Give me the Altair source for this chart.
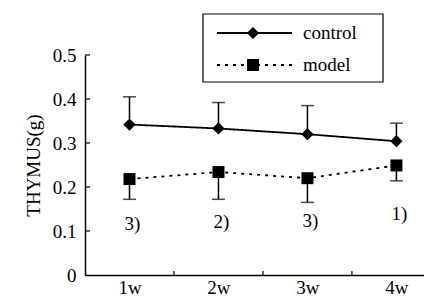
import altair as alt
import pandas as pd

# ---- data ----
weeks = [1, 2, 3, 4]
week_labels = ["1w", "2w", "3w", "4w"]
control_mean = [0.342, 0.333, 0.320, 0.304]
control_upper = [0.405, 0.392, 0.385, 0.345]
model_mean = [0.218, 0.234, 0.220, 0.249]
model_lower = [0.172, 0.172, 0.165, 0.214]
sig_labels = ["3)", "2)", "3)", "1)"]
sig_y = [0.115, 0.120, 0.122, 0.138]
series_names = ["control", "model"]
series_shapes = ["diamond", "square"]
series_dash = [[1, 0], [3, 5]]
y_ticks = [0.1, 0.2, 0.3, 0.4, 0.5]
x_ticks = [1.5, 2.5, 3.5]

FONT = "Liberation Serif"
FS = 19

rows = []
for i, w in enumerate(weeks):
    rows.append(dict(week=w, series="control", value=control_mean[i],
                     bar_from=control_mean[i], bar_to=control_upper[i], cap=control_upper[i]))
    rows.append(dict(week=w, series="model", value=model_mean[i],
                     bar_from=model_lower[i], bar_to=model_mean[i], cap=model_lower[i]))
df = pd.DataFrame(rows)
sig_df = pd.DataFrame(dict(week=weeks, y=sig_y, label=sig_labels))
yt_df = pd.DataFrame(dict(v=y_ticks))
xt_df = pd.DataFrame(dict(b=x_ticks))

xscale = alt.Scale(domain=[0.5, 4.31], nice=False, zero=False)
yscale = alt.Scale(domain=[0, 0.5], nice=False, zero=True)

x_axis = alt.Axis(values=weeks, labelExpr="datum.value + 'w'", ticks=False, grid=False,
                  domainColor="black", domainWidth=1.5, labelFont=FONT, labelFontSize=FS,
                  labelColor="black", labelPadding=3, title="")
y_axis = alt.Axis(values=[0, 0.1, 0.2, 0.3, 0.4, 0.5], format="~g",
                  ticks=False, grid=False, domainColor="black", domainWidth=1.5,
                  labelFont=FONT, labelFontSize=FS, labelColor="black", labelPadding=9,
                  title="THYMUS(g)", titleFont=FONT, titleFontSize=FS, titleFontWeight="normal",
                  titleColor="black", titlePadding=9)

base = alt.Chart(df)
X = alt.X("week:Q", scale=xscale, axis=x_axis)

lines = base.mark_line(color="black", strokeWidth=1.8).encode(
    x=X,
    y=alt.Y("value:Q", scale=yscale, axis=y_axis),
    detail="series:N",
    strokeDash=alt.StrokeDash("series:N", scale=alt.Scale(domain=series_names, range=series_dash),
                              legend=None),
)

err = base.mark_rule(color="black", strokeWidth=1.5).encode(
    x=X, y=alt.Y("bar_from:Q", scale=yscale, axis=y_axis), y2="bar_to:Q")
caps = base.mark_tick(color="black", orient="horizontal", size=13, thickness=1.5).encode(
    x=X, y=alt.Y("cap:Q", scale=yscale, axis=y_axis))

ctrl_pts = base.transform_filter(alt.datum.series == "control").mark_point(
    shape="diamond", filled=True, color="black", size=150, opacity=1).encode(
    x=X, y=alt.Y("value:Q", scale=yscale, axis=y_axis))
model_pts = base.transform_filter(alt.datum.series == "model").mark_point(
    shape="square", filled=True, color="black", size=144, opacity=1).encode(
    x=X, y=alt.Y("value:Q", scale=yscale, axis=y_axis))

sig = alt.Chart(sig_df).mark_text(font=FONT, fontSize=FS, color="black", dx=3).encode(
    x=X, y=alt.Y("y:Q", scale=yscale, axis=y_axis), text="label:N")

ytk = alt.Chart(yt_df).mark_rule(color="black", strokeWidth=1.2).encode(
    y=alt.Y("v:Q", scale=yscale, axis=y_axis), x=alt.value(0), x2=alt.value(5))
xtk = alt.Chart(xt_df).mark_rule(color="black", strokeWidth=1.2).encode(
    x=alt.X("b:Q", scale=xscale, axis=x_axis), y=alt.value(220), y2=alt.value(216))

# ---- legend box (top right, above the plot) ----
leg_frame = alt.Chart(pd.DataFrame({"series": series_names[:1]})).mark_rect(
    fill="white", stroke="black", strokeWidth=1.2).encode(
    x=alt.value(118), x2=alt.value(298), y=alt.value(-41), y2=alt.value(27))

legend_layers = [leg_frame]
row_y = [-22, 10]
for name, shp, dash, ry in zip(series_names, series_shapes, series_dash, row_y):
    one = alt.Chart(pd.DataFrame({"series": [name]}))
    legend_layers.append(one.mark_rule(color="black", strokeWidth=1.8, strokeDash=dash).encode(
        x=alt.value(132), x2=alt.value(207), y=alt.value(ry)))
    legend_layers.append(one.mark_point(shape=shp, filled=True, color="black", opacity=1,
                                        size=150 if shp == "diamond" else 144).encode(
        x=alt.value(168), y=alt.value(ry)))
    legend_layers.append(one.mark_text(font=FONT, fontSize=FS, color="black", align="left",
                                       baseline="middle").encode(
        x=alt.value(218), y=alt.value(ry), text="series:N"))

chart = alt.layer(lines, err, caps, ctrl_pts, model_pts, sig, ytk, xtk, *legend_layers).properties(
    width=339, height=220,
    autosize=alt.AutoSizeParams(type="none"),
    padding={"left": 77, "top": 47, "right": 0, "bottom": 21},
).configure_view(stroke=None)

chart.save("out.html", embed_options={"renderer": "svg", "actions": False})
